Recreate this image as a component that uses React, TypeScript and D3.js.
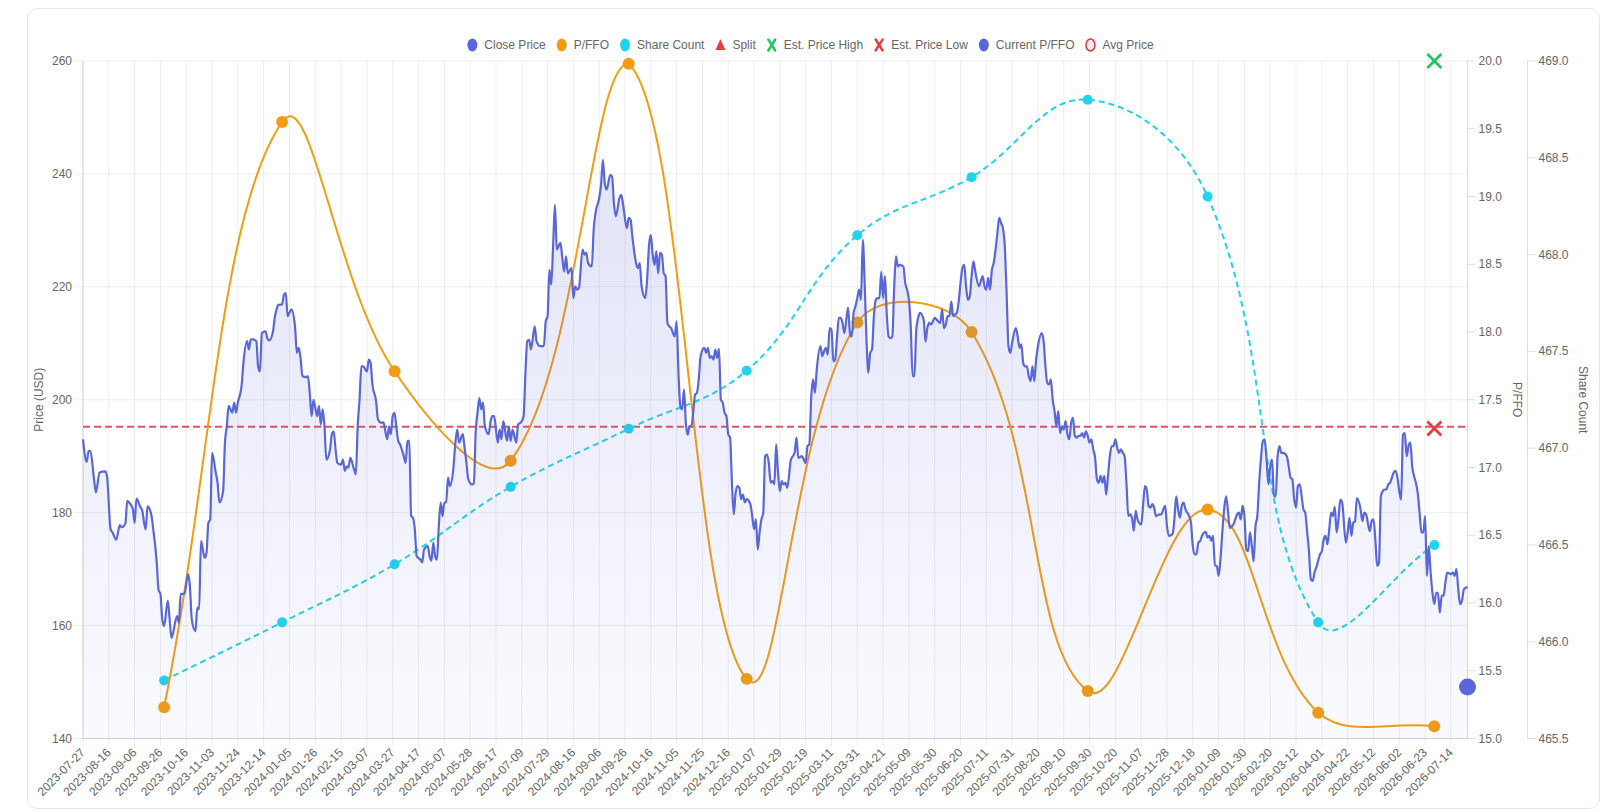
import * as d3 from "d3";

const W = 1603;
const H = 812;
const PLOT = { left: 83, right: 1467.5, top: 61, bottom: 738.5 };
const FONT = "'Liberation Sans', Arial, Helvetica, sans-serif";
const INK = "#666";
const GRID = "rgba(0,0,0,0.07)";
const BORDER = "rgba(0,0,0,0.13)";

const PRICE_COLOR = "#5a67d8";
const PFFO_COLOR = "#f39c12";
const SHARE_COLOR = "#22d3ee";
const HIGH_COLOR = "#22c55e";
const LOW_COLOR = "#e53e3e";
const AVG_COLOR = "rgba(220,53,69,0.85)";

// x axis: trading-day index, one label every 14 sessions
const LAST_DAY = 751;
const TICK_STEP = 14;
const X_LABELS = [
  "2023-07-27", "2023-08-16", "2023-09-06", "2023-09-26", "2023-10-16", "2023-11-03",
  "2023-11-24", "2023-12-14", "2024-01-05", "2024-01-26", "2024-02-15", "2024-03-07",
  "2024-03-27", "2024-04-17", "2024-05-07", "2024-05-28", "2024-06-17", "2024-07-09",
  "2024-07-29", "2024-08-16", "2024-09-06", "2024-09-26", "2024-10-16", "2024-11-05",
  "2024-11-25", "2024-12-16", "2025-01-07", "2025-01-29", "2025-02-19", "2025-03-11",
  "2025-03-31", "2025-04-21", "2025-05-09", "2025-05-30", "2025-06-20", "2025-07-11",
  "2025-07-31", "2025-08-20", "2025-09-10", "2025-09-30", "2025-10-20", "2025-11-07",
  "2025-11-28", "2025-12-18", "2026-01-09", "2026-01-30", "2026-02-20", "2026-03-12",
  "2026-04-01", "2026-04-22", "2026-05-12", "2026-06-02", "2026-06-23", "2026-07-14",
];

const PRICE_TICKS = [140, 160, 180, 200, 220, 240, 260];
const PFFO_TICKS = [15.0, 15.5, 16.0, 16.5, 17.0, 17.5, 18.0, 18.5, 19.0, 19.5, 20.0];
const SHARE_TICKS = [465.5, 466.0, 466.5, 467.0, 467.5, 468.0, 468.5, 469.0];

// [trading day, close]
const CLOSE: [number, number][] = [
  [0, 193.0], [2, 189.0], [3, 190.9], [4, 190.9], [6, 185.9], [7, 183.6], [9, 187.1], [12, 187.3],
  [13, 186.5], [15, 177.0], [16, 176.5], [18, 175.2], [20, 177.8], [21, 177.4], [23, 178.1], [24, 182.1],
  [25, 181.8], [27, 180.7], [28, 178.2], [29, 182.5], [31, 181.1], [32, 180.5], [34, 177.0], [35, 181.1],
  [37, 179.7], [38, 177.4], [40, 171.2], [41, 166.3], [42, 165.6], [43, 161.1], [44, 159.9], [46, 164.4],
  [47, 161.1], [48, 157.8], [51, 161.7], [52, 160.5], [53, 165.6], [55, 165.6], [57, 169.1], [58, 167.0],
  [59, 161.1], [61, 159.0], [62, 163.2], [63, 162.9], [64, 175.0], [66, 172.0], [67, 172.9], [68, 178.2],
  [69, 178.8], [70, 190.6], [72, 187.1], [73, 185.3], [74, 181.8], [76, 183.8], [77, 192.4], [78, 195.3],
  [79, 198.9], [81, 197.7], [82, 199.5], [83, 197.7], [84, 199.5], [86, 202.4], [87, 206.5], [89, 210.4],
  [90, 208.9], [91, 210.7], [92, 210.7], [94, 210.4], [95, 205.9], [96, 205.0], [97, 211.8], [99, 212.1],
  [100, 210.9], [101, 210.5], [103, 212.0], [104, 214.5], [105, 216.0], [106, 216.8], [108, 216.9], [109, 218.6],
  [110, 218.9], [111, 214.8], [112, 215.4], [113, 216.0], [115, 213.0], [116, 208.3], [117, 209.2], [118, 207.4],
  [119, 204.2], [121, 204.0], [122, 204.2], [123, 201.2], [124, 197.1], [125, 200.0], [127, 197.1], [128, 198.9],
  [129, 195.6], [130, 198.3], [131, 195.3], [132, 189.4], [134, 191.2], [135, 193.9], [136, 194.4], [137, 191.2],
  [138, 188.8], [140, 188.5], [141, 189.4], [142, 187.4], [143, 188.2], [144, 188.0], [145, 189.7], [147, 187.7],
  [148, 186.8], [149, 195.3], [150, 200.0], [151, 205.9], [152, 205.9], [154, 205.0], [155, 207.1], [156, 206.5],
  [157, 202.7], [159, 199.7], [160, 196.5], [162, 195.9], [163, 196.0], [164, 194.4], [165, 193.0], [166, 195.3],
  [167, 193.9], [168, 197.1], [169, 197.7], [170, 195.0], [171, 192.7], [172, 192.1], [174, 190.0], [175, 188.8],
  [176, 192.7], [177, 192.7], [178, 179.4], [179, 179.1], [180, 177.0], [181, 172.3], [183, 171.7], [184, 171.2],
  [185, 173.5], [187, 174.1], [188, 172.3], [189, 171.5], [190, 174.7], [191, 172.3], [192, 171.7], [193, 177.6],
  [194, 181.8], [195, 179.4], [196, 181.8], [197, 181.8], [198, 186.2], [199, 184.7], [201, 188.2], [202, 192.4],
  [203, 194.7], [204, 192.4], [206, 193.9], [207, 191.5], [208, 188.8], [209, 185.9], [211, 185.0], [212, 185.1],
  [213, 194.2], [214, 197.7], [215, 200.3], [216, 198.3], [217, 199.5], [218, 195.3], [220, 193.9], [221, 196.0],
  [222, 197.1], [223, 197.1], [225, 192.4], [226, 194.7], [227, 193.0], [228, 196.2], [230, 192.7], [231, 195.3],
  [232, 192.7], [233, 194.7], [235, 192.4], [236, 195.6], [238, 196.2], [239, 197.1], [240, 204.8], [241, 210.4],
  [242, 210.6], [243, 208.9], [245, 213.0], [246, 210.4], [248, 209.5], [250, 209.5], [251, 213.9], [252, 214.8],
  [253, 223.0], [254, 220.4], [255, 227.2], [256, 234.5], [257, 226.6], [259, 227.8], [260, 225.1], [261, 222.7],
  [262, 225.4], [263, 222.4], [265, 223.3], [266, 218.0], [267, 220.1], [268, 219.5], [269, 219.8], [271, 226.6],
  [272, 225.7], [273, 226.0], [274, 224.2], [276, 223.6], [277, 230.1], [278, 233.1], [280, 235.7], [281, 238.1],
  [282, 242.5], [283, 238.4], [284, 237.2], [286, 239.8], [287, 239.5], [288, 234.8], [289, 232.5], [291, 235.7],
  [292, 236.3], [293, 234.5], [295, 230.4], [296, 232.2], [297, 231.9], [298, 228.9], [300, 224.2], [301, 223.3],
  [302, 224.2], [303, 220.1], [305, 218.0], [306, 221.3], [307, 227.2], [308, 229.2], [309, 225.7], [310, 223.9],
  [311, 226.3], [312, 222.4], [313, 226.0], [314, 225.7], [315, 222.4], [316, 221.9], [317, 213.6], [318, 213.0],
  [319, 212.7], [321, 211.2], [322, 213.9], [323, 204.8], [324, 198.9], [325, 198.3], [326, 201.8], [327, 195.9],
  [328, 193.8], [329, 195.3], [330, 195.3], [331, 197.7], [332, 200.9], [333, 201.2], [334, 203.6], [335, 207.7],
  [337, 209.2], [338, 208.3], [339, 209.2], [340, 207.4], [341, 207.7], [342, 207.1], [343, 208.9], [344, 207.4],
  [345, 209.0], [346, 200.0], [347, 199.5], [348, 197.7], [349, 197.1], [350, 193.9], [351, 193.3], [352, 185.3],
  [353, 179.7], [354, 183.5], [355, 184.7], [356, 184.4], [357, 182.4], [358, 183.2], [359, 181.8], [360, 182.4],
  [362, 181.5], [363, 179.4], [364, 177.1], [365, 178.8], [366, 173.5], [367, 176.5], [368, 178.8], [369, 180.0],
  [370, 190.0], [371, 190.3], [372, 188.8], [373, 185.3], [374, 185.6], [375, 185.0], [376, 192.1], [377, 187.1],
  [378, 183.8], [379, 185.6], [380, 185.0], [381, 185.3], [382, 184.4], [384, 189.4], [385, 190.0], [386, 190.6],
  [387, 193.3], [388, 189.7], [390, 190.0], [391, 189.4], [392, 188.8], [393, 191.8], [394, 192.1], [395, 200.3],
  [396, 203.6], [397, 201.2], [398, 205.3], [400, 209.5], [401, 207.7], [402, 208.6], [403, 209.2], [404, 208.0],
  [405, 212.7], [406, 212.4], [407, 206.8], [408, 207.1], [409, 211.0], [410, 214.5], [411, 214.5], [412, 213.6],
  [413, 211.8], [415, 216.3], [416, 211.8], [417, 211.2], [418, 215.4], [419, 216.5], [420, 218.0], [421, 219.5],
  [422, 217.7], [423, 228.3], [424, 220.7], [425, 210.6], [426, 204.8], [427, 208.3], [428, 208.9], [429, 214.8],
  [430, 217.7], [431, 218.0], [432, 218.0], [433, 222.7], [434, 218.0], [435, 221.9], [436, 215.1], [437, 211.2],
  [438, 210.9], [439, 211.2], [440, 219.8], [441, 225.4], [442, 223.6], [443, 223.9], [445, 223.6], [446, 220.7],
  [447, 219.5], [448, 217.7], [449, 213.0], [450, 204.2], [451, 204.2], [452, 212.4], [453, 214.5], [454, 215.4],
  [456, 214.2], [457, 210.3], [458, 212.7], [459, 213.6], [460, 213.3], [461, 213.9], [462, 214.5], [463, 214.2],
  [465, 213.6], [466, 216.0], [467, 212.7], [468, 213.3], [469, 214.8], [470, 214.8], [471, 217.4], [472, 214.8],
  [473, 215.1], [474, 215.4], [475, 217.4], [476, 220.7], [477, 223.3], [478, 223.9], [479, 220.1], [480, 217.7],
  [481, 218.3], [482, 221.9], [483, 224.5], [484, 222.7], [486, 220.1], [487, 221.0], [488, 221.9], [489, 220.1],
  [490, 219.5], [491, 221.6], [492, 219.5], [493, 223.0], [494, 224.2], [495, 226.6], [496, 229.5], [497, 232.2],
  [498, 231.3], [499, 230.4], [500, 227.2], [501, 218.9], [502, 209.5], [503, 208.3], [504, 210.1], [506, 212.7],
  [507, 211.2], [508, 209.2], [509, 209.8], [510, 206.5], [511, 205.9], [512, 205.9], [513, 204.2], [514, 203.3],
  [515, 205.9], [516, 203.3], [517, 207.1], [518, 209.5], [520, 211.8], [521, 210.6], [522, 206.2], [523, 203.0],
  [524, 202.7], [525, 203.6], [526, 200.0], [527, 198.0], [528, 195.3], [529, 198.0], [530, 194.1], [531, 195.3],
  [532, 194.7], [533, 196.2], [534, 193.9], [535, 193.0], [536, 195.9], [537, 196.8], [538, 193.6], [539, 193.3],
  [540, 193.6], [541, 193.6], [542, 194.1], [543, 193.3], [544, 194.4], [545, 193.6], [546, 192.4], [547, 193.0],
  [548, 191.2], [549, 189.7], [550, 185.9], [551, 185.3], [552, 186.5], [553, 185.3], [554, 186.5], [555, 183.2],
  [556, 186.5], [557, 190.0], [558, 191.8], [559, 191.8], [560, 193.0], [561, 191.5], [562, 190.6], [563, 191.2],
  [564, 190.6], [565, 190.0], [566, 185.3], [567, 179.4], [568, 179.7], [569, 179.1], [570, 176.8], [571, 180.3],
  [572, 178.8], [574, 177.9], [575, 181.2], [576, 184.7], [577, 184.1], [578, 181.2], [579, 180.9], [580, 181.5],
  [581, 180.9], [582, 179.4], [584, 179.7], [585, 179.7], [586, 180.6], [587, 181.2], [588, 177.6], [589, 175.9],
  [591, 176.2], [592, 178.8], [593, 182.9], [594, 180.6], [595, 179.1], [596, 181.2], [597, 181.8], [598, 180.6],
  [600, 179.4], [601, 178.2], [602, 174.1], [603, 172.6], [604, 172.6], [605, 174.7], [606, 175.0], [607, 175.9],
  [609, 176.6], [610, 175.6], [611, 175.9], [612, 175.0], [613, 175.9], [614, 170.6], [615, 170.6], [616, 168.8],
  [617, 171.7], [618, 176.5], [619, 180.6], [620, 182.9], [621, 180.6], [622, 177.3], [624, 177.9], [625, 178.8],
  [626, 179.7], [627, 180.0], [628, 178.8], [629, 181.2], [630, 179.4], [631, 173.5], [632, 173.2], [633, 176.5],
  [634, 174.1], [635, 171.4], [636, 177.6], [637, 179.4], [638, 185.3], [639, 189.7], [640, 192.7], [641, 193.0],
  [642, 189.4], [643, 185.0], [644, 188.2], [645, 189.4], [646, 182.9], [647, 182.9], [648, 190.0], [649, 191.8],
  [650, 190.6], [651, 190.6], [653, 190.0], [654, 188.2], [655, 186.2], [656, 185.9], [657, 182.4], [658, 180.9],
  [659, 184.7], [660, 185.0], [662, 180.6], [663, 180.0], [664, 176.7], [665, 173.2], [666, 168.2], [667, 167.9],
  [668, 169.4], [669, 170.3], [671, 172.6], [672, 173.2], [673, 175.3], [674, 175.9], [675, 174.4], [676, 177.0],
  [677, 180.0], [678, 179.4], [679, 181.0], [680, 176.5], [681, 178.8], [682, 182.3], [683, 181.8], [685, 174.7],
  [686, 176.5], [687, 179.1], [688, 175.9], [689, 178.2], [690, 178.5], [691, 182.6], [693, 180.6], [694, 178.5],
  [695, 180.0], [696, 179.7], [698, 176.7], [699, 178.5], [700, 178.8], [701, 175.3], [702, 170.6], [703, 171.1],
  [704, 182.9], [705, 183.8], [706, 184.1], [707, 184.1], [708, 185.0], [709, 185.3], [710, 186.2], [711, 187.1],
  [712, 187.4], [713, 186.2], [714, 183.8], [715, 182.3], [716, 193.8], [717, 194.1], [718, 190.0], [719, 191.8],
  [720, 192.4], [721, 188.2], [722, 186.5], [723, 185.3], [724, 183.5], [725, 180.0], [726, 176.5], [727, 176.5],
  [728, 179.4], [729, 168.8], [730, 174.1], [731, 169.4], [732, 165.8], [733, 163.8], [734, 165.8], [735, 165.8],
  [736, 162.3], [737, 165.3], [738, 165.3], [739, 167.6], [740, 169.4], [742, 169.1], [743, 169.4], [744, 168.8],
  [745, 170.0], [746, 166.4], [747, 163.8], [748, 164.4], [749, 166.4], [750, 166.7], [751, 166.8],
];

// quarterly report days, P/FFO and diluted share count (millions)
const REPORT_DAYS = [44, 108, 169, 232, 296, 360, 420, 482, 545, 610, 670, 733];
const PFFO = [15.23, 19.55, 17.71, 17.05, 19.98, 15.44, 18.07, 18.0, 15.35, 16.69, 15.19, 15.09];
const SHARES = [465.8, 466.1, 466.4, 466.8, 467.1, 467.4, 468.1, 468.4, 468.8, 468.3, 466.1, 466.5];

const AVG_PRICE = 195.2;
const EST_DAY = 733;
const EST_HIGH = 260;
const EST_LOW = 194.9;
const CURRENT_DAY = 751;
const CURRENT_PFFO = 15.38;

const LEGEND = [
  { label: "Close Price", kind: "dot", color: PRICE_COLOR },
  { label: "P/FFO", kind: "dot", color: PFFO_COLOR },
  { label: "Share Count", kind: "dot", color: SHARE_COLOR },
  { label: "Split", kind: "triangle", color: LOW_COLOR },
  { label: "Est. Price High", kind: "cross", color: HIGH_COLOR },
  { label: "Est. Price Low", kind: "cross", color: LOW_COLOR },
  { label: "Current P/FFO", kind: "dot", color: PRICE_COLOR },
  { label: "Avg Price", kind: "ring", color: "#dc3545" },
];

const x = d3.scaleLinear().domain([0, LAST_DAY]).range([PLOT.left, PLOT.right]);
const yPrice = d3.scaleLinear().domain([140, 260]).range([PLOT.bottom, PLOT.top]);
const yPffo = d3.scaleLinear().domain([15, 20]).range([PLOT.bottom, PLOT.top]);
const yShares = d3.scaleLinear().domain([465.5, 469]).range([PLOT.bottom, PLOT.top]);

// Chart.js-style bezier spline (tension, control points capped to the plot area)
function splinePath(pts: [number, number][], tension: number): string {
  const n = pts.length;
  const cx = (v: number) => Math.min(PLOT.right, Math.max(PLOT.left, v));
  const cy = (v: number) => Math.min(PLOT.bottom, Math.max(PLOT.top, v));
  const ctrl = pts.map((p, i) => {
    const prev = pts[Math.max(0, i - 1)];
    const next = pts[Math.min(n - 1, i + 1)];
    const d01 = Math.hypot(p[0] - prev[0], p[1] - prev[1]);
    const d12 = Math.hypot(next[0] - p[0], next[1] - p[1]);
    const sum = d01 + d12 || 1;
    const fa = (tension * d01) / sum;
    const fb = (tension * d12) / sum;
    const dx = next[0] - prev[0];
    const dy = next[1] - prev[1];
    return {
      inn: [cx(p[0] - fa * dx), cy(p[1] - fa * dy)],
      out: [cx(p[0] + fb * dx), cy(p[1] + fb * dy)],
    };
  });
  const path = d3.path();
  path.moveTo(pts[0][0], pts[0][1]);
  for (let i = 1; i < n; i++) {
    path.bezierCurveTo(
      ctrl[i - 1].out[0], ctrl[i - 1].out[1],
      ctrl[i].inn[0], ctrl[i].inn[1],
      pts[i][0], pts[i][1],
    );
  }
  return path.toString();
}

function textWidth(s: string): number {
  const ctx = document.createElement("canvas").getContext("2d");
  if (!ctx) return s.length * 6.5;
  ctx.font = `12px ${FONT}`;
  return ctx.measureText(s).width;
}

function Marker({ kind, color, cx, cy }: { kind: string; color: string; cx: number; cy: number }) {
  if (kind === "triangle") {
    return <polygon points={`${cx},${cy - 6} ${cx + 5},${cy + 5} ${cx - 5},${cy + 5}`} fill={color} />;
  }
  if (kind === "cross") {
    return (
      <g stroke={color} strokeWidth={2.4} strokeLinecap="round">
        <line x1={cx - 3.5} y1={cy - 5.5} x2={cx + 3.5} y2={cy + 5.5} />
        <line x1={cx + 3.5} y1={cy - 5.5} x2={cx - 3.5} y2={cy + 5.5} />
      </g>
    );
  }
  if (kind === "ring") {
    return <ellipse cx={cx} cy={cy} rx={4.5} ry={6} fill="rgba(220,53,69,0.1)" stroke={color} strokeWidth={1.5} />;
  }
  return <ellipse cx={cx} cy={cy} rx={5} ry={6.5} fill={color} />;
}

function Legend() {
  const widths = LEGEND.map((d) => 18 + textWidth(d.label));
  const total = d3.sum(widths) + 10 * (LEGEND.length - 1);
  let cursor = 810 - total / 2;
  const items = LEGEND.map((d, i) => {
    const x0 = cursor;
    cursor += widths[i] + 10;
    return { ...d, x0 };
  });
  return (
    <g fontFamily={FONT} fontSize={12} fill={INK}>
      {items.map((d) => (
        <g key={d.label}>
          <Marker kind={d.kind} color={d.color} cx={d.x0 + 6} cy={45} />
          <text x={d.x0 + 18} y={45} dominantBaseline="central">
            {d.label}
          </text>
        </g>
      ))}
    </g>
  );
}

function XMark({ px, py, color }: { px: number; py: number; color: string }) {
  return (
    <g stroke={color} strokeWidth={2.6}>
      <line x1={px - 7} y1={py - 7} x2={px + 7} y2={py + 7} />
      <line x1={px + 7} y1={py - 7} x2={px - 7} y2={py + 7} />
    </g>
  );
}

export default function App() {
  const priceLine = d3
    .line<[number, number]>()
    .x((d) => x(d[0]))
    .y((d) => yPrice(d[1]))
    .curve(d3.curveMonotoneX);
  const priceArea = d3
    .area<[number, number]>()
    .x((d) => x(d[0]))
    .y0(PLOT.bottom)
    .y1((d) => yPrice(d[1]))
    .curve(d3.curveMonotoneX);

  const pffoPts = REPORT_DAYS.map((d, i) => [x(d), yPffo(PFFO[i])] as [number, number]);
  const sharePts = REPORT_DAYS.map((d, i) => [x(d), yShares(SHARES[i])] as [number, number]);
  const xTicks = X_LABELS.map((label, i) => ({ label, px: x(i * TICK_STEP) }));

  return (
    <svg
      width={W}
      height={H}
      viewBox={`0 0 ${W} ${H}`}
      style={{ position: "absolute", left: 0, top: 0, display: "block", background: "#fff" }}
    >
      <defs>
        <linearGradient id="priceFill" gradientUnits="userSpaceOnUse" x1={0} x2={0} y1={PLOT.top} y2={PLOT.bottom}>
          <stop offset="0%" stopColor={PRICE_COLOR} stopOpacity={0.2} />
          <stop offset="100%" stopColor={PRICE_COLOR} stopOpacity={0.03} />
        </linearGradient>
        <clipPath id="plotClip">
          <rect x={PLOT.left} y={PLOT.top - 1} width={PLOT.right - PLOT.left} height={PLOT.bottom - PLOT.top + 1} />
        </clipPath>
      </defs>

      <rect x={27.5} y={8.5} width={1572} height={800} rx={10} fill="#fff" stroke="#e6e6e6" />

      <Legend />

      {/* grid */}
      <g stroke={GRID} strokeWidth={1}>
        {PRICE_TICKS.map((t) => (
          <line key={t} x1={PLOT.left - 8} x2={PLOT.right} y1={yPrice(t)} y2={yPrice(t)} />
        ))}
        {xTicks.map((t) => (
          <line key={t.label} x1={t.px} x2={t.px} y1={PLOT.top} y2={PLOT.bottom + 8} />
        ))}
      </g>
      <g stroke={BORDER} strokeWidth={1}>
        <line x1={PLOT.left} x2={PLOT.left} y1={PLOT.top} y2={PLOT.bottom} />
        <line x1={PLOT.left} x2={PLOT.right} y1={PLOT.bottom} y2={PLOT.bottom} />
        <line x1={PLOT.right} x2={PLOT.right} y1={PLOT.top} y2={PLOT.bottom} />
        <line x1={PLOT.right + 60} x2={PLOT.right + 60} y1={PLOT.top} y2={PLOT.bottom} />
        {PFFO_TICKS.map((t) => (
          <line key={t} x1={PLOT.right} x2={PLOT.right + 8} y1={yPffo(t)} y2={yPffo(t)} />
        ))}
        {SHARE_TICKS.map((t) => (
          <line key={t} x1={PLOT.right + 60} x2={PLOT.right + 68} y1={yShares(t)} y2={yShares(t)} />
        ))}
      </g>

      {/* tick labels */}
      <g fontFamily={FONT} fontSize={12} fill={INK}>
        {PRICE_TICKS.map((t) => (
          <text key={t} x={PLOT.left - 11} y={yPrice(t)} textAnchor="end" dominantBaseline="central">
            {t}
          </text>
        ))}
        {PFFO_TICKS.map((t) => (
          <text key={t} x={PLOT.right + 11} y={yPffo(t)} dominantBaseline="central">
            {t.toFixed(1)}
          </text>
        ))}
        {SHARE_TICKS.map((t) => (
          <text key={t} x={PLOT.right + 71} y={yShares(t)} dominantBaseline="central">
            {t.toFixed(1)}
          </text>
        ))}
        {xTicks.map((t) => (
          <text
            key={t.label}
            transform={`translate(${t.px},${PLOT.bottom + 12}) rotate(-45)`}
            textAnchor="end"
            dominantBaseline="central"
          >
            {t.label}
          </text>
        ))}
        <text transform={`translate(39,${(PLOT.top + PLOT.bottom) / 2}) rotate(-90)`} textAnchor="middle" dominantBaseline="central">
          Price (USD)
        </text>
        <text transform={`translate(1517,${(PLOT.top + PLOT.bottom) / 2}) rotate(90)`} textAnchor="middle" dominantBaseline="central">
          P/FFO
        </text>
        <text transform={`translate(1583,${(PLOT.top + PLOT.bottom) / 2}) rotate(90)`} textAnchor="middle" dominantBaseline="central">
          Share Count
        </text>
      </g>

      {/* avg price */}
      <line
        x1={PLOT.left}
        x2={PLOT.right}
        y1={yPrice(AVG_PRICE)}
        y2={yPrice(AVG_PRICE)}
        stroke={AVG_COLOR}
        strokeWidth={2}
        strokeDasharray="7 4"
      />

      {/* current P/FFO */}
      <circle cx={x(CURRENT_DAY)} cy={yPffo(CURRENT_PFFO)} r={8.5} fill={PRICE_COLOR} />

      <XMark px={x(EST_DAY)} py={yPrice(EST_LOW)} color={LOW_COLOR} />
      <XMark px={x(EST_DAY)} py={yPrice(EST_HIGH)} color={HIGH_COLOR} />

      {/* share count */}
      <path
        d={splinePath(sharePts, 0.4)}
        fill="none"
        stroke={SHARE_COLOR}
        strokeWidth={2}
        strokeDasharray="6 4"
        clipPath="url(#plotClip)"
      />
      {sharePts.map((p, i) => (
        <circle key={i} cx={p[0]} cy={p[1]} r={5} fill={SHARE_COLOR} />
      ))}

      {/* P/FFO */}
      <path d={splinePath(pffoPts, 0.4)} fill="none" stroke={PFFO_COLOR} strokeWidth={2} clipPath="url(#plotClip)" />
      {pffoPts.map((p, i) => (
        <circle key={i} cx={p[0]} cy={p[1]} r={6} fill={PFFO_COLOR} />
      ))}

      {/* close price */}
      <path d={priceArea(CLOSE) ?? ""} fill="url(#priceFill)" />
      <path d={priceLine(CLOSE) ?? ""} fill="none" stroke={PRICE_COLOR} strokeWidth={2.2} strokeLinejoin="round" />
    </svg>
  );
}
